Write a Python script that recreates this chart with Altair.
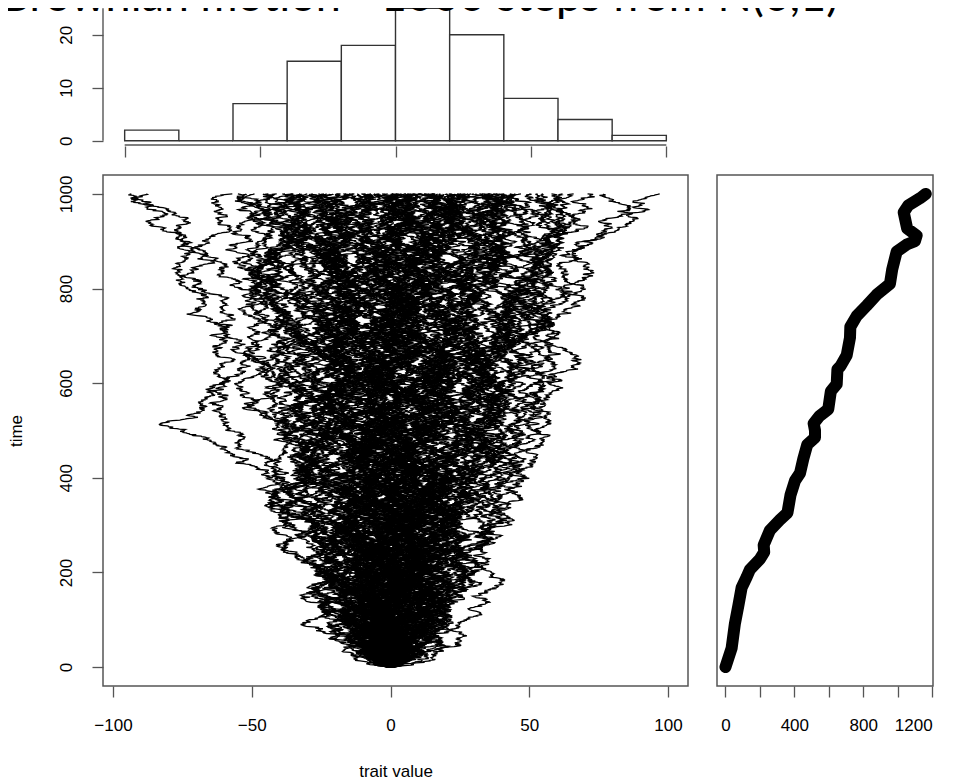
import numpy as np
import pandas as pd
import altair as alt

alt.data_transformers.disable_max_rows()

TITLE = "Brownian motion - 1000 steps from N(0,1)"

# ---- top histogram (final trait values) ----
hist_lo = [-100, -80, -60, -40, -20, 0, 20, 40, 60, 80]
hist_hi = [-80, -60, -40, -20, 0, 20, 40, 60, 80, 100]
hist_count = [2, 0, 7, 15, 18, 25, 20, 8, 4, 1]
hist_x_ticks = [-100, -50, 0, 50, 100]
hist_y_ticks = [0, 5, 10, 15, 20, 25]

# ---- main panel: 100 paths, final values estimated to agree with the histogram ----
end_values = [
    -94, -88,
    -57, -55, -52, -49, -46, -44, -41,
    -39, -38, -36, -35, -33, -32, -30, -29, -28, -26, -25, -24, -23, -22, -21,
    -19.5, -18, -17, -16, -15, -14, -13, -12, -10.5, -9, -8, -7, -6, -5, -4, -3, -2, -1,
    0.5, 1, 2, 2.5, 3, 4, 5, 5.5, 6, 7, 8, 8.5, 9, 10, 11, 11.5, 12, 13, 14, 15, 15.5, 16, 17, 18, 19,
    20.5, 21, 22, 23, 24, 25, 26, 27, 28, 29, 30, 31, 32, 33, 34, 35, 36, 37, 38, 39,
    41, 43, 45, 47, 50, 53, 55, 58,
    62, 66, 71, 77,
    97,
]
path_range = [-96, 99.5]   # extent of the paths seen in the main panel
n_steps = 1000
main_x_ticks = [-100, -50, 0, 50, 100]
main_y_ticks = [0, 200, 400, 600, 800, 1000]

# ---- right panel: variance across paths vs time ----
var_time = [0, 40, 92, 130, 168, 190, 206, 228, 243, 258, 289, 311, 326, 364, 394, 410, 440,
            470, 485, 500, 515, 530, 545, 583, 598, 629, 636, 659, 696, 719, 742, 764, 787,
            810, 840, 878, 893, 900, 912, 927, 961, 976, 991, 1000]
var_value = [0, 36, 55, 75, 94, 123, 142, 200, 225, 222, 258, 316, 360, 378, 404, 433, 452,
             475, 520, 520, 512, 545, 597, 612, 646, 650, 668, 704, 723, 725, 762, 820, 878,
             955, 968, 994, 1052, 1100, 1110, 1055, 1035, 1062, 1130, 1163]
var_x_ticks = [0, 200, 400, 600, 800, 1000, 1200]

# The individual N(0,1) draws of the simulation cannot be read from the image;
# the step texture is a seeded stand-in, pinned to the end values above and kept
# inside the extent seen in the picture.
n_paths = len(end_values)
tt = np.arange(n_steps + 1)
ends = np.array(end_values, dtype=float)
for seed in range(1, 500):
    rng = np.random.default_rng(seed)
    walk = np.concatenate([np.zeros((n_paths, 1)),
                           np.cumsum(rng.standard_normal((n_paths, n_steps)), axis=1)], axis=1)
    paths = walk - (tt / n_steps)[None, :] * (walk[:, -1:] - ends[:, None])
    if paths.min() > path_range[0] and paths.max() < path_range[1]:
        break
paths_df = pd.DataFrame({
    "id": np.repeat(np.arange(n_paths), n_steps + 1),
    "t": np.tile(tt, n_paths),
    "x": np.round(paths.ravel(), 2),
})

hist_df = pd.DataFrame({"lo": hist_lo, "hi": hist_hi, "count": hist_count})
var_df = pd.DataFrame({"t": var_time, "v": var_value})

FONT = "Liberation Sans"
FS = 17
AX = dict(labelFont=FONT, labelFontSize=FS, labelColor="black",
          titleFont=FONT, titleFontSize=FS, titleFontWeight="normal", titleColor="black",
          tickColor="#555", tickWidth=1.3, tickSize=11, domain=False, grid=False)
BOX = alt.ViewBackground(stroke="#555", strokeWidth=1.5)

# ---------------- histogram panel ----------------
hx = alt.Scale(domain=[-108, 108], nice=False, zero=False)
hy = alt.Scale(domain=[-1, 26], nice=False, zero=False)
HW, HH = 585, 143

bars = alt.Chart(hist_df).mark_bar(fill="white", stroke="#333", strokeWidth=1.4).encode(
    x=alt.X("lo:Q", scale=hx, axis=alt.Axis(values=hist_x_ticks, labels=False, title=None, **AX)),
    x2="hi:Q",
    y=alt.Y("count:Q", scale=hy, axis=alt.Axis(
        values=hist_y_ticks, format="d", title=None,
        labelExpr="datum.value % 10 === 0 ? datum.label : ''",
        labelAngle=270, labelAlign="center", labelBaseline="alphabetic", labelPadding=21, **AX)),
    y2=alt.datum(0),
)
hx_line = alt.Chart(pd.DataFrame({"a": [min(hist_x_ticks)], "b": [max(hist_x_ticks)]})).mark_rule(
    color="#555", strokeWidth=1.4).encode(x=alt.X("a:Q", scale=hx), x2="b:Q", y=alt.value(HH - 1))
hy_line = alt.Chart(pd.DataFrame({"a": [min(hist_y_ticks)], "b": [max(hist_y_ticks)]})).mark_rule(
    color="#555", strokeWidth=1.4).encode(y=alt.Y("a:Q", scale=hy), y2="b:Q", x=alt.value(0))
title_txt = alt.Chart(pd.DataFrame({"s": [TITLE]})).mark_text(
    align="left", baseline="alphabetic", font="Lato", fontSize=45, color="black").encode(
    text="s:N", x=alt.value(-102), y=alt.value(8))

hist = alt.layer(bars, hx_line, hy_line, title_txt).properties(
    width=HW, height=HH, view=alt.ViewBackground(stroke="transparent"))

# ---------------- main panel ----------------
lines = alt.Chart(paths_df).mark_line(color="black", strokeWidth=1.3).encode(
    x=alt.X("x:Q", scale=alt.Scale(domain=[-103.6, 107.2], nice=False, zero=False),
            axis=alt.Axis(values=main_x_ticks, format="d", title="trait value",
                          labelPadding=20, titlePadding=30, **AX)),
    y=alt.Y("t:Q", scale=alt.Scale(domain=[-40, 1040], nice=False, zero=False),
            axis=alt.Axis(values=main_y_ticks, format="d", title="time",
                          labelAngle=270, labelAlign="center", labelBaseline="alphabetic",
                          labelPadding=21, titleBaseline="alphabetic", titlePadding=36, **AX)),
    detail="id:N",
    order="t:Q",
).properties(width=585, height=511, view=BOX)

# ---------------- right panel ----------------
var_line = alt.Chart(var_df).mark_line(color="black", strokeWidth=12, strokeCap="round",
                                       strokeJoin="round").encode(
    x=alt.X("v:Q", scale=alt.Scale(domain=[-49, 1205], nice=False, zero=False),
            axis=alt.Axis(values=var_x_ticks, format="d", title=None,
                          labelExpr="datum.value % 400 === 0 ? datum.label : ''",
                          labelPadding=20, **AX)),
    y=alt.Y("t:Q", scale=alt.Scale(domain=[-40, 1040], nice=False, zero=False), axis=None),
    order="t:Q",
).properties(width=216, height=511, view=BOX)

bottom = alt.hconcat(lines, var_line, spacing=29, bounds="flush")
chart = alt.vconcat(hist, bottom, spacing=29, bounds="flush").properties(
    padding={"left": -8, "top": -34, "right": 5, "bottom": 2},
    background="white",
)

chart.save("out.html", embed_options={"renderer": "svg", "actions": False})
